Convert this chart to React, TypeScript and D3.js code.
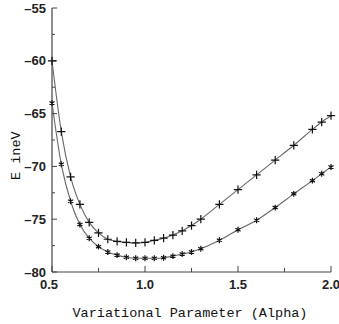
import { useEffect, useRef } from "react";
import * as d3 from "d3";

// Variational parameter (alpha) sample points
const alphas = [0.5, 0.55, 0.6, 0.65, 0.7, 0.75, 0.8, 0.85, 0.9, 0.95, 1.0, 1.05, 1.1, 1.15, 1.2, 1.25, 1.3, 1.4, 1.5, 1.6, 1.7, 1.8, 1.9, 1.95, 2.0];
// Energy (eV), upper curve, "+" markers
const upperE = [-60.0, -66.7, -71.0, -73.6, -75.3, -76.3, -76.9, -77.1, -77.2, -77.25, -77.2, -77.0, -76.8, -76.5, -76.1, -75.6, -75.0, -73.6, -72.2, -70.8, -69.4, -68.0, -66.5, -65.8, -65.2];
// Energy (eV), lower curve, "*" markers
const lowerE = [-64.0, -69.8, -73.3, -75.5, -76.8, -77.6, -78.1, -78.4, -78.6, -78.7, -78.7, -78.7, -78.65, -78.5, -78.3, -78.1, -77.8, -77.0, -76.0, -75.1, -73.9, -72.6, -71.35, -70.7, -70.05];

const xTicks = [0.5, 1.0, 1.5, 2.0];
const xMinor = [0.75, 1.25, 1.75];
const yTicks = [-55, -60, -65, -70, -75, -80];
const yMinor = [-57.5, -62.5, -67.5, -72.5, -77.5];

const W = 339;
const H = 324;

export default function App() {
  const svgRef = useRef<SVGSVGElement>(null);

  useEffect(() => {
    if (!svgRef.current) return;
    const svg = d3.select(svgRef.current);
    svg.selectAll("*").remove();

    const m = { left: 52, right: 8, top: 8, bottom: 52 };
    const x = d3.scaleLinear().domain([0.5, 2.0]).range([m.left, W - m.right]);
    const y = d3.scaleLinear().domain([-80, -55]).range([H - m.bottom, m.top]);
    const axisCol = "#444";
    const tickFont = "'Liberation Sans', Arial, sans-serif";
    const monoFont = "'Liberation Mono', 'Courier New', monospace";

    // axes lines
    svg.append("line")
      .attr("x1", x(0.5)).attr("x2", x(0.5)).attr("y1", y(-55)).attr("y2", y(-80))
      .attr("stroke", axisCol).attr("stroke-width", 1.2);
    svg.append("line")
      .attr("x1", x(0.5)).attr("x2", x(2.0)).attr("y1", y(-80)).attr("y2", y(-80))
      .attr("stroke", axisCol).attr("stroke-width", 1.2);

    // y ticks (inside)
    yTicks.forEach(v => {
      svg.append("line").attr("x1", x(0.5)).attr("x2", x(0.5) + 5)
        .attr("y1", y(v)).attr("y2", y(v)).attr("stroke", axisCol);
      svg.append("text").attr("x", x(0.5) - 6).attr("y", y(v) + 4.5)
        .attr("text-anchor", "end").attr("font-family", tickFont).attr("font-size", 13)
        .attr("font-weight", "bold").attr("fill", "#222").text(String(v).replace("-", "\u2013"));
    });
    yMinor.forEach(v => {
      svg.append("line").attr("x1", x(0.5)).attr("x2", x(0.5) + 3)
        .attr("y1", y(v)).attr("y2", y(v)).attr("stroke", axisCol);
    });

    // x ticks (inside)
    xTicks.forEach(v => {
      svg.append("line").attr("x1", x(v)).attr("x2", x(v))
        .attr("y1", y(-80)).attr("y2", y(-80) - 6).attr("stroke", axisCol);
      svg.append("text").attr("x", x(v) - (v === 0.5 ? 3 : 0)).attr("y", y(-80) + 17)
        .attr("text-anchor", "middle").attr("font-family", tickFont).attr("font-size", 13)
        .attr("font-weight", "bold").attr("fill", "#222").text(v.toFixed(1));
    });
    xMinor.forEach(v => {
      svg.append("line").attr("x1", x(v)).attr("x2", x(v))
        .attr("y1", y(-80)).attr("y2", y(-80) - 4).attr("stroke", axisCol);
    });

    // axis titles
    svg.append("text").attr("x", 190).attr("y", 317)
      .attr("text-anchor", "middle").attr("font-family", monoFont).attr("font-size", 13.5)
      .attr("fill", "#111").text("Variational Parameter (Alpha)");
    svg.append("text").attr("transform", "translate(20,180) rotate(-90)")
      .attr("text-anchor", "start").attr("font-family", monoFont).attr("font-size", 13.5)
      .attr("fill", "#111").text("E  ineV");

    const line = d3.line<number>()
      .x((_, i) => x(alphas[i]))
      .y(d => y(d))
      .curve(d3.curveMonotoneX);

    const series = [
      { vals: upperE, sym: d3.symbolPlus, size: 24 },
      { vals: lowerE, sym: d3.symbolAsterisk, size: 24 },
    ];

    series.forEach(s => {
      svg.append("path").datum(s.vals)
        .attr("fill", "none").attr("stroke", "#666").attr("stroke-width", 1.1).attr("d", line);
      const sym = d3.symbol().type(s.sym).size(s.size);
      svg.append("g").selectAll("path").data(s.vals).join("path")
        .attr("transform", (d, i) => `translate(${x(alphas[i])},${y(d)})`)
        .attr("d", sym as any)
        .attr("fill", "none").attr("stroke", "#111").attr("stroke-width", 1.2);
    });
  }, []);

  return (
    <svg ref={svgRef} width={W} height={H}
      style={{ position: "absolute", left: 0, top: 0, background: "#fff" }} />
  );
}
